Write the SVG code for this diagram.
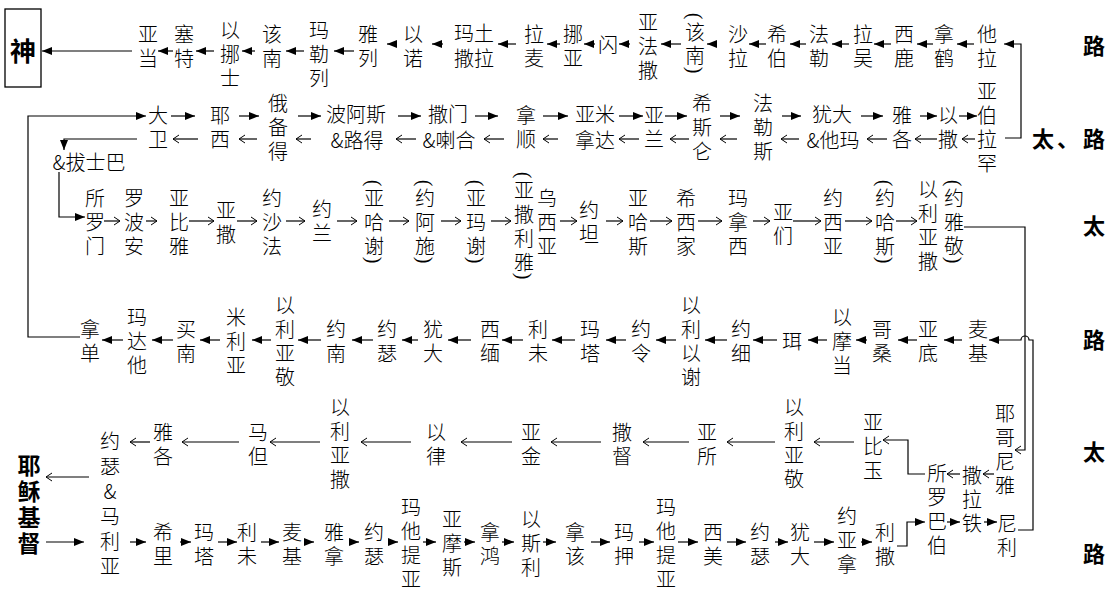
<svg xmlns="http://www.w3.org/2000/svg" width="1116" height="591" viewBox="0 0 1116 591">
<style>
.t{font-family:"Noto Sans CJK SC","Noto Sans CJK JP",sans-serif;font-size:20px;font-weight:300;fill:#000;text-anchor:middle;dominant-baseline:central}
.b{font-family:"Noto Sans CJK SC","Noto Sans CJK JP",sans-serif;font-weight:bold;fill:#000;text-anchor:middle;dominant-baseline:central}
.p{font-family:"Liberation Serif",serif;font-size:20px;fill:#000;text-anchor:middle;dominant-baseline:central}
.l{fill:none;stroke:#000;stroke-width:1.2}
.f{marker-end:url(#fh)}
.o{marker-end:url(#oh)}
</style>
<defs>
<marker id="fh" markerUnits="userSpaceOnUse" markerWidth="10" markerHeight="8" refX="10" refY="4" orient="auto"><path d="M0,0 L10,4 L0,8 Z" fill="#000"/></marker>
<marker id="oh" markerUnits="userSpaceOnUse" markerWidth="8" markerHeight="10" refX="7" refY="5" orient="auto"><path d="M1,1 L7,5 L1,9" fill="none" stroke="#000" stroke-width="1"/></marker>
</defs>
<rect width="1116" height="591" fill="#fff"/>
<g id="connectors">
<path class="l f" d="M132,51H42"/>
<path class="l f" d="M173,51H158"/>
<path class="l f" d="M214,51H196"/>
<path class="l f" d="M255,51H242"/>
<path class="l f" d="M304,51H286"/>
<path class="l f" d="M354,51H334"/>
<path class="l f" d="M396,44H387"/>
<path class="l f" d="M443,44H432"/>
<path class="l f" d="M516,44H498"/>
<path class="l f" d="M560,44H547"/>
<path class="l f" d="M595,44H584"/>
<path class="l f" d="M630,44H619"/>
<path class="l f" d="M681,44H661"/>
<path class="l f" d="M717,44H707"/>
<path class="l f" d="M766,44H749"/>
<path class="l f" d="M806,44H790"/>
<path class="l f" d="M849,44H832"/>
<path class="l f" d="M891,44H874"/>
<path class="l f" d="M933,44H917"/>
<path class="l f" d="M974,44H957"/>
<path class="l f" d="M1005,138H1021V44H1004"/>
<path class="l f" d="M80,337H28V116H146"/>
<path class="l f" d="M171,116H195"/>
<path class="l f" d="M239,116H259"/>
<path class="l f" d="M298,116H321"/>
<path class="l f" d="M398,116H421"/>
<path class="l f" d="M475,116H498"/>
<path class="l f" d="M543,116H568"/>
<path class="l f" d="M619,116H643"/>
<path class="l f" d="M665,116H687"/>
<path class="l f" d="M720,116H740"/>
<path class="l f" d="M782,116H801"/>
<path class="l f" d="M861,116H883"/>
<path class="l f" d="M920,116H937"/>
<path class="l f" d="M959,116H977"/>
<path class="l o" d="M198,139H173"/>
<path class="l o" d="M257,139H239"/>
<path class="l o" d="M311,139H296"/>
<path class="l o" d="M416,139H396"/>
<path class="l o" d="M504,139H484"/>
<path class="l o" d="M558,139H543"/>
<path class="l o" d="M639,139H619"/>
<path class="l o" d="M689,139H670"/>
<path class="l o" d="M737,139H720"/>
<path class="l o" d="M799,139H781"/>
<path class="l o" d="M887,139H867"/>
<path class="l o" d="M937,139H915"/>
<path class="l o" d="M975,139H962"/>
<path class="l f" d="M137,139H64V150"/>
<path class="l f" d="M59,172V217H85"/>
<path class="l o" d="M104,221H120"/>
<path class="l o" d="M146,221H157"/>
<path class="l o" d="M189,221H214"/>
<path class="l o" d="M237,221H257"/>
<path class="l o" d="M286,221H305"/>
<path class="l o" d="M337,221H357"/>
<path class="l o" d="M389,221H409"/>
<path class="l o" d="M441,221H461"/>
<path class="l o" d="M491,221H511"/>
<path class="l o" d="M560,221H577"/>
<path class="l o" d="M606,221H623"/>
<path class="l o" d="M650,221H672"/>
<path class="l o" d="M698,221H722"/>
<path class="l o" d="M753,221H770"/>
<path class="l o" d="M793,221H821"/>
<path class="l o" d="M845,221H872"/>
<path class="l o" d="M896,221H917"/>
<path class="l o" d="M964,227H1025V450H1015"/>
<path class="l f" d="M123,340H102"/>
<path class="l f" d="M173,340H152"/>
<path class="l f" d="M220,340H200"/>
<path class="l f" d="M271,340H252"/>
<path class="l f" d="M321,340H298"/>
<path class="l f" d="M373,340H352"/>
<path class="l f" d="M418,340H402"/>
<path class="l f" d="M471,340H448"/>
<path class="l f" d="M523,340H502"/>
<path class="l f" d="M575,340H552"/>
<path class="l f" d="M626,340H606"/>
<path class="l f" d="M676,340H656"/>
<path class="l f" d="M727,340H705"/>
<path class="l f" d="M777,340H753"/>
<path class="l f" d="M827,340H808"/>
<path class="l f" d="M867,340H856"/>
<path class="l f" d="M917,340H898"/>
<path class="l f" d="M962,340H944"/>
<path class="l f" d="M1018,530H1033V340H1029A4,4 0 0 0 1021,340H989"/>
<path class="l o" d="M150,442H130"/>
<path class="l o" d="M239,442H182"/>
<path class="l o" d="M320,442H270"/>
<path class="l o" d="M411,442H361"/>
<path class="l o" d="M512,442H461"/>
<path class="l o" d="M601,442H551"/>
<path class="l o" d="M689,442H643"/>
<path class="l o" d="M775,442H727"/>
<path class="l o" d="M854,442H814"/>
<path class="l o" d="M925,474H908V440H883"/>
<path class="l o" d="M960,474H947"/>
<path class="l o" d="M994,474H983"/>
<path class="l o" d="M89,477H46"/>
<path class="l f" d="M46,542H84"/>
<path class="l f" d="M130,542H146"/>
<path class="l f" d="M180,542H191"/>
<path class="l f" d="M218,542H237"/>
<path class="l f" d="M261,542H279"/>
<path class="l f" d="M305,542H314"/>
<path class="l f" d="M350,542H359"/>
<path class="l f" d="M388,542H398"/>
<path class="l f" d="M423,542H436"/>
<path class="l f" d="M464,542H475"/>
<path class="l f" d="M502,542H514"/>
<path class="l f" d="M543,542H556"/>
<path class="l f" d="M591,542H610"/>
<path class="l f" d="M639,542H654"/>
<path class="l f" d="M678,542H698"/>
<path class="l f" d="M727,542H746"/>
<path class="l f" d="M775,542H788"/>
<path class="l f" d="M814,542H834"/>
<path class="l f" d="M861,542H872"/>
<path class="l f" d="M897,546H907V522H925"/>
<path class="l f" d="M947,522H960"/>
<path class="l f" d="M984,522H997"/>
</g>
<g id="nodes">
<g id="god"><rect x="5" y="9" width="36" height="78" fill="none" stroke="#000" stroke-width="1.3"/><text class="b" x="23" y="49" font-size="26">神</text></g>
<g id="n1-01"><text class="t" x="148 148" y="33 57">亚当</text></g>
<g id="n1-02"><text class="t" x="184 184" y="33 57">塞特</text></g>
<g id="n1-03"><text class="t" x="230 230 230" y="29 53 77">以挪士</text></g>
<g id="n1-04"><text class="t" x="272 272" y="33 57">该南</text></g>
<g id="n1-05"><text class="t" x="319 319 319" y="29 53 77">玛勒列</text></g>
<g id="n1-06"><text class="t" x="368 368" y="33 57">雅列</text></g>
<g id="n1-07"><text class="t" x="413 413" y="33 57">以诺</text></g>
<g id="n1-08"><text class="t"><tspan x="474" y="32">玛土</tspan><tspan x="474" y="57">撒拉</tspan></text></g>
<g id="n1-09"><text class="t" x="534 534" y="33 57">拉麦</text></g>
<g id="n1-10"><text class="t" x="573 573" y="33 57">挪亚</text></g>
<g id="n1-11"><text class="t" x="608" y="44">闪</text></g>
<g id="n1-12"><text class="t" x="648 648 648" y="21 45 69">亚法撒</text></g>
<g id="n1-13"><text class="p" x="695" y="16" transform="rotate(90 695 16)">(</text><text class="t" x="695 695" y="31 54">该南</text><text class="p" x="695" y="70" transform="rotate(90 695 70)">)</text></g>
<g id="n1-14"><text class="t" x="738 738" y="33 57">沙拉</text></g>
<g id="n1-15"><text class="t" x="777 777" y="33 57">希伯</text></g>
<g id="n1-16"><text class="t" x="819 819" y="33 57">法勒</text></g>
<g id="n1-17"><text class="t" x="863 863" y="33 57">拉吴</text></g>
<g id="n1-18"><text class="t" x="904 904" y="33 57">西鹿</text></g>
<g id="n1-19"><text class="t" x="944 944" y="33 57">拿鹤</text></g>
<g id="n1-20"><text class="t" x="987 987" y="33 57">他拉</text></g>
<g id="n2-01"><text class="t" x="158 158" y="114 138">大卫</text></g>
<g id="n2-02"><text class="t" x="220 220" y="114 138">耶西</text></g>
<g id="n2-03"><text class="t" x="278 278 278" y="102 126 150">俄备得</text></g>
<g id="n2-04"><text class="t"><tspan x="356" y="113">波阿斯</tspan><tspan x="357" y="139">&amp;路得</tspan></text></g>
<g id="n2-05"><text class="t"><tspan x="448" y="113">撒门</tspan><tspan x="449" y="139">&amp;喇合</tspan></text></g>
<g id="n2-06"><text class="t" x="526 526" y="114 138">拿顺</text></g>
<g id="n2-07"><text class="t"><tspan x="595" y="113">亚米</tspan><tspan x="595" y="139">拿达</tspan></text></g>
<g id="n2-08"><text class="t" x="654 654" y="114 138">亚兰</text></g>
<g id="n2-09"><text class="t" x="702 702 702" y="102 126 150">希斯仑</text></g>
<g id="n2-10"><text class="t" x="763 763 763" y="102 126 150">法勒斯</text></g>
<g id="n2-11"><text class="t"><tspan x="832" y="113">犹大</tspan><tspan x="833" y="139">&amp;他玛</tspan></text></g>
<g id="n2-12"><text class="t" x="902 902" y="114 138">雅各</text></g>
<g id="n2-13"><text class="t" x="948 948" y="114 138">以撒</text></g>
<g id="n2-14"><text class="t" x="987 987 987 987" y="90 114 138 162">亚伯拉罕</text></g>
<g id="n2-15"><text class="t" x="89" y="161">&amp;拔士巴</text></g>
<g id="n3-01"><text class="t" x="95 95 95" y="197 221 245">所罗门</text></g>
<g id="n3-02"><text class="t" x="134 134 134" y="197 221 245">罗波安</text></g>
<g id="n3-03"><text class="t" x="179 179 179" y="197 221 245">亚比雅</text></g>
<g id="n3-04"><text class="t" x="226 226" y="209 233">亚撒</text></g>
<g id="n3-05"><text class="t" x="272 272 272" y="197 221 245">约沙法</text></g>
<g id="n3-06"><text class="t" x="322 322" y="208 232">约兰</text></g>
<g id="n3-07"><text class="p" x="374" y="183" transform="rotate(90 374 183)">(</text><text class="t" x="374 374 374" y="197 221 245">亚哈谢</text><text class="p" x="374" y="260" transform="rotate(90 374 260)">)</text></g>
<g id="n3-08"><text class="p" x="425" y="183" transform="rotate(90 425 183)">(</text><text class="t" x="425 425 425" y="197 221 245">约阿施</text><text class="p" x="425" y="260" transform="rotate(90 425 260)">)</text></g>
<g id="n3-09"><text class="p" x="476" y="183" transform="rotate(90 476 183)">(</text><text class="t" x="476 476 476" y="197 221 245">亚玛谢</text><text class="p" x="476" y="260" transform="rotate(90 476 260)">)</text></g>
<g id="n3-10"><text class="p" x="524" y="175" transform="rotate(90 524 175)">(</text><text class="t" x="524 524 524 524" y="189 213 237 261">亚撒利雅</text><text class="p" x="524" y="276" transform="rotate(90 524 276)">)</text></g>
<g id="n3-11"><text class="t" x="547 547 547" y="197 221 245">乌西亚</text></g>
<g id="n3-12"><text class="t" x="589 589" y="209 233">约坦</text></g>
<g id="n3-13"><text class="t" x="638 638 638" y="197 221 245">亚哈斯</text></g>
<g id="n3-14"><text class="t" x="686 686 686" y="197 221 245">希西家</text></g>
<g id="n3-15"><text class="t" x="738 738 738" y="197 221 245">玛拿西</text></g>
<g id="n3-16"><text class="t" x="783 783" y="211 235">亚们</text></g>
<g id="n3-17"><text class="t" x="833 833 833" y="197 221 245">约西亚</text></g>
<g id="n3-18"><text class="p" x="885" y="183" transform="rotate(90 885 183)">(</text><text class="t" x="885 885 885" y="197 221 245">约哈斯</text><text class="p" x="885" y="260" transform="rotate(90 885 260)">)</text></g>
<g id="n3-19"><text class="t" x="928 928 928 928" y="188 212 236 260">以利亚撒</text></g>
<g id="n3-20"><text class="p" x="954" y="183" transform="rotate(90 954 183)">(</text><text class="t" x="954 954 954" y="197 221 245">约雅敬</text><text class="p" x="954" y="260" transform="rotate(90 954 260)">)</text></g>
<g id="n4-01"><text class="t" x="90 90" y="328 352">拿单</text></g>
<g id="n4-02"><text class="t" x="137 137 137" y="316 340 364">玛达他</text></g>
<g id="n4-03"><text class="t" x="186 186" y="328 352">买南</text></g>
<g id="n4-04"><text class="t" x="236 236 236" y="316 340 364">米利亚</text></g>
<g id="n4-05"><text class="t" x="285 285 285 285" y="304 328 352 376">以利亚敬</text></g>
<g id="n4-06"><text class="t" x="336 336" y="328 352">约南</text></g>
<g id="n4-07"><text class="t" x="387 387" y="328 352">约瑟</text></g>
<g id="n4-08"><text class="t" x="433 433" y="328 352">犹大</text></g>
<g id="n4-09"><text class="t" x="490 490" y="328 352">西缅</text></g>
<g id="n4-10"><text class="t" x="538 538" y="328 352">利未</text></g>
<g id="n4-11"><text class="t" x="590 590" y="328 352">玛塔</text></g>
<g id="n4-12"><text class="t" x="641 641" y="328 352">约令</text></g>
<g id="n4-13"><text class="t" x="691 691 691 691" y="304 328 352 376">以利以谢</text></g>
<g id="n4-14"><text class="t" x="741 741" y="328 352">约细</text></g>
<g id="n4-15"><text class="t" x="792" y="340">珥</text></g>
<g id="n4-16"><text class="t" x="842 842 842" y="316 340 364">以摩当</text></g>
<g id="n4-17"><text class="t" x="882 882" y="328 352">哥桑</text></g>
<g id="n4-18"><text class="t" x="928 928" y="328 352">亚底</text></g>
<g id="n4-19"><text class="t" x="978 978" y="328 352">麦基</text></g>
<g id="n5-01"><text class="t" x="110 110 110 110 110 110" y="440 465 490 515 540 565">约瑟&amp;马利亚</text></g>
<g id="n5-02"><text class="t" x="163 163" y="431 455">雅各</text></g>
<g id="n5-03"><text class="t" x="258 258" y="431 455">马但</text></g>
<g id="n5-04"><text class="t" x="340 340 340 340" y="406 430 454 478">以利亚撒</text></g>
<g id="n5-05"><text class="t" x="436 436" y="431 455">以律</text></g>
<g id="n5-06"><text class="t" x="531 531" y="431 455">亚金</text></g>
<g id="n5-07"><text class="t" x="622 622" y="431 455">撒督</text></g>
<g id="n5-08"><text class="t" x="707 707" y="431 455">亚所</text></g>
<g id="n5-09"><text class="t" x="794 794 794 794" y="406 430 454 478">以利亚敬</text></g>
<g id="n5-10"><text class="t" x="873 873 873" y="421 445 469">亚比玉</text></g>
<g id="n5-11"><text class="t" x="1005 1005 1005 1005" y="412 436 460 484">耶哥尼雅</text></g>
<g id="n5-12"><text class="t" x="937 937 937 937" y="472 496 520 544">所罗巴伯</text></g>
<g id="n5-13"><text class="t" x="972 972 972" y="474 498 522">撒拉铁</text></g>
<g id="n5-14"><text class="t" x="1007 1007" y="522 546">尼利</text></g>
<g id="n6-01"><text class="t" x="163 163" y="531 555">希里</text></g>
<g id="n6-02"><text class="t" x="204 204" y="531 555">玛塔</text></g>
<g id="n6-03"><text class="t" x="247 247" y="531 555">利未</text></g>
<g id="n6-04"><text class="t" x="292 292" y="531 555">麦基</text></g>
<g id="n6-05"><text class="t" x="334 334" y="531 555">雅拿</text></g>
<g id="n6-06"><text class="t" x="374 374" y="531 555">约瑟</text></g>
<g id="n6-07"><text class="t" x="411 411 411 411" y="506 530 554 578">玛他提亚</text></g>
<g id="n6-08"><text class="t" x="452 452 452" y="518 542 566">亚摩斯</text></g>
<g id="n6-09"><text class="t" x="490 490" y="531 555">拿鸿</text></g>
<g id="n6-10"><text class="t" x="531 531 531" y="518 542 566">以斯利</text></g>
<g id="n6-11"><text class="t" x="575 575" y="531 555">拿该</text></g>
<g id="n6-12"><text class="t" x="624 624" y="531 555">玛押</text></g>
<g id="n6-13"><text class="t" x="666 666 666 666" y="506 530 554 578">玛他提亚</text></g>
<g id="n6-14"><text class="t" x="713 713" y="531 555">西美</text></g>
<g id="n6-15"><text class="t" x="760 760" y="531 555">约瑟</text></g>
<g id="n6-16"><text class="t" x="800 800" y="531 555">犹大</text></g>
<g id="n6-17"><text class="t" x="847 847 847" y="515 539 563">约亚拿</text></g>
<g id="n6-18"><text class="t" x="885 885" y="531 555">利撒</text></g>
<g id="jesus"><text class="b" font-size="23" x="29 29 29 29" y="464 490 516 542">耶稣基督</text></g>
</g>
<g id="labels">
<text class="b" font-size="22" x="1094" y="44">路</text>
<text class="b" font-size="22" x="1043 1068 1094" y="137 137 137">太、路</text>
<text class="b" font-size="22" x="1094" y="224">太</text>
<text class="b" font-size="22" x="1094" y="338">路</text>
<text class="b" font-size="22" x="1094" y="450">太</text>
<text class="b" font-size="22" x="1094" y="552">路</text>
</g>
</svg>
